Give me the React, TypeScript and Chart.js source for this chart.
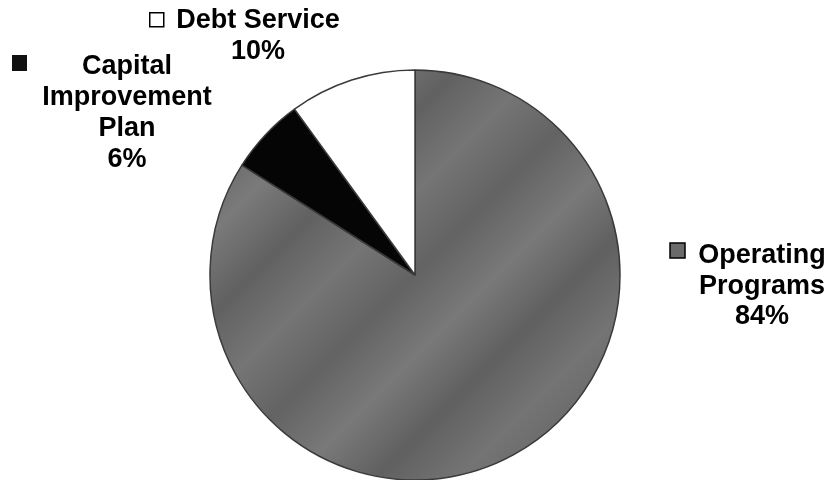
import React, { useEffect, useRef } from "react";
import { Chart, registerables } from "chart.js";

Chart.register(...registerables);

const categories = ["Operating Programs", "Capital Improvement Plan", "Debt Service"];
const values = [84, 6, 10];
const labelLines = [["Operating", "Programs"], ["Capital", "Improvement", "Plan"], ["Debt Service"]];

// label layout (positions only)
const labelLayout = [
  { box: [670, 243], cx: 762, baselines: [263, 294, 324] },
  { box: [12, 55], cx: 127, baselines: [74, 105, 136, 167] },
  { box: [149, 12], cx: 258, baselines: [28, 59] },
];

function grayFill(ctx: CanvasRenderingContext2D, area: any) {
  const g = ctx.createLinearGradient(area.left, area.top, area.right, area.bottom);
  const tones = ["#777777", "#656565", "#7a7a7a", "#616161", "#757575", "#636363", "#797979", "#606060", "#747474", "#676767", "#767676"];
  tones.forEach((t, i) => g.addColorStop(i / (tones.length - 1), t));
  return g;
}

export default function App() {
  const ref = useRef<HTMLCanvasElement | null>(null);
  useEffect(() => {
    document.body.style.margin = "0";
    const canvas = ref.current!;
    const labelPlugin = {
      id: "pieLabels",
      afterDraw(chart: any) {
        const ctx: CanvasRenderingContext2D = chart.ctx;
        const total = values.reduce((a, b) => a + b, 0);
        ctx.save();
        ctx.font = "bold 27px 'Liberation Sans', Arial, sans-serif";
        ctx.fillStyle = "#000";
        ctx.textAlign = "center";
        ctx.textBaseline = "alphabetic";
        categories.forEach((c, i) => {
          const lay = labelLayout[i];
          const lines = [...labelLines[i], Math.round((values[i] / total) * 100) + "%"];
          lines.forEach((ln, j) => ctx.fillText(ln, lay.cx, lay.baselines[j]));
          const [bx, by] = lay.box;
          ctx.lineWidth = 1.5;
          if (i === 0) {
            ctx.fillStyle = "#6a6a6a";
            ctx.fillRect(bx, by, 15, 15);
            ctx.strokeStyle = "#000";
            ctx.strokeRect(bx, by, 15, 15);
          } else if (i === 1) {
            ctx.fillStyle = "#111";
            ctx.fillRect(bx, by, 15, 16);
          } else {
            ctx.fillStyle = "#fff";
            ctx.fillRect(bx, by, 15, 15);
            ctx.strokeStyle = "#000";
            ctx.strokeRect(bx + 0.75, by + 0.75, 14, 14);
          }
          ctx.fillStyle = "#000";
        });
        ctx.restore();
      },
    };
    const chart = new Chart(canvas, {
      type: "pie",
      data: {
        labels: categories,
        datasets: [
          {
            data: values,
            backgroundColor: (c: any) => {
              const area = c.chart.chartArea;
              if (c.dataIndex === 0) return area ? grayFill(c.chart.ctx, area) : "#6a6a6a";
              if (c.dataIndex === 1) return "#050505";
              return "#ffffff";
            },
            borderColor: "#3a3a3a",
            borderWidth: 1.5,
            radius: 205,
          },
        ],
      },
      options: {
        responsive: false,
        animation: false,
        layout: { padding: { left: 210, right: 211, top: 70, bottom: 0 } },
        plugins: { legend: { display: false }, tooltip: { enabled: false } },
      },
      plugins: [labelPlugin],
    });
    return () => chart.destroy();
  }, []);
  return (
    <div style={{ width: 831, height: 480, background: "#fff" }}>
      <canvas ref={ref} width={831} height={480} style={{ display: "block" }} />
    </div>
  );
}
